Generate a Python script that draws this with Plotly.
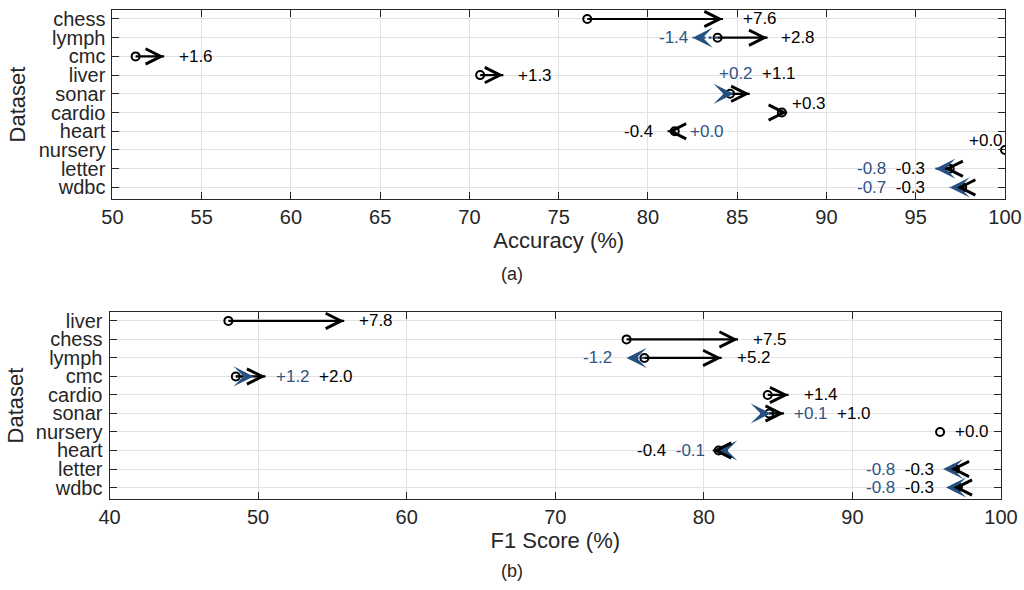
import plotly.graph_objects as go

# ---------------- data: (a) Accuracy ----------------
cats_a = ["chess", "lymph", "cmc", "liver", "sonar", "cardio", "heart", "nursery", "letter", "wdbc"]
base_a = [76.6, 83.9, 51.3, 70.6, 84.6, 87.5, 81.5, 100.0, 96.9, 97.6]
black_a = [7.6, 2.8, 1.6, 1.3, 1.1, 0.3, -0.4, 0.0, -0.3, -0.3]
blue_a = [None, -1.4, None, None, 0.2, None, 0.0, None, -0.8, -0.7]
xticks_a = [50, 55, 60, 65, 70, 75, 80, 85, 90, 95, 100]

# ---------------- data: (b) F1 score ----------------
cats_b = ["liver", "chess", "lymph", "cmc", "cardio", "sonar", "nursery", "heart", "letter", "wdbc"]
base_b = [48.0, 74.8, 76.0, 48.5, 84.3, 84.4, 95.9, 81.0, 96.9, 97.1]
black_b = [7.8, 7.5, 5.2, 2.0, 1.4, 1.0, 0.0, -0.4, -0.3, -0.3]
blue_b = [None, None, -1.2, 1.2, None, 0.1, None, -0.1, -0.8, -0.8]
xticks_b = [40, 50, 60, 70, 80, 90, 100]

# label pixel tweaks (layout only): right-group dx, left-group dx, dy
lab_dxr_a = [5, -2, 0, 0, -46, -10, 0, -51, 0, 0]
lab_dxl_a = [0, 10, 0, 0, 0, 0, 0, 0, 5, -10]
lab_dy_a = [0, 0, 0, 0, 20, 9, 0, 9, 0, 0]
lab_dxr_b = [0, 0, 0, -5, 0, -5, 0, 0, 0, 0]
lab_dxl_b = [0, 0, 0, 0, 0, 0, 0, 7, 6, 3]
lab_dy_b = [0] * 10

BLACK = "#000000"
BLUE_LINE = "#25507f"
BLUE_TXT = "#2f5485"
AXC = "#262626"
GRID = "#e1e1e1"
FONT = "Liberation Sans, Arial, Helvetica, sans-serif"
LAB_FS = 17
TICK_FS = 20
TITLE_FS = 22
GAP = 13

fig = go.Figure()


def fmt(v):
    return ("+" if v >= 0 else "-") + f"{abs(v):.1f}"


def add_panel(cats, base, blk, blu, dxr, dxl, dys, xref, yref):
    n = len(cats)
    yv = list(range(n))
    # shafts + heads
    for i in range(n):
        b = base[i]
        for d, col, dash in ((blu[i], BLUE_LINE, "dot"), (blk[i], BLACK, "solid")):
            if d is None or abs(d) < 1e-9:
                continue
            fig.add_trace(go.Scatter(x=[b, b + d], y=[yv[i], yv[i]], mode="lines",
                                     line=dict(color=col, width=2.2, dash=dash),
                                     xaxis=xref, yaxis=yref, showlegend=False,
                                     hoverinfo="skip"))
            sgn = 1 if d > 0 else -1
            fig.add_annotation(x=b + d, y=yv[i], ax=-sgn * 9, ay=0, xref=xref, yref=yref,
                               text="", showarrow=True,
                               arrowhead=5 if col == BLACK else 3,
                               arrowsize=1.25 if col == BLACK else 1.4,
                               arrowwidth=2.4, arrowcolor=col, standoff=0)
    # circles
    fig.add_trace(go.Scatter(x=base, y=yv, mode="markers",
                             marker=dict(symbol="circle-open", size=8, color=BLACK,
                                         line=dict(width=2, color=BLACK)),
                             xaxis=xref, yaxis=yref, showlegend=False))
    # labels
    for i in range(n):
        b = base[i]
        items = [(blk[i], BLACK, 1)]
        if blu[i] is not None:
            items.append((blu[i], BLUE_TXT, 0))
        right = sorted([t for t in items if t[0] >= 0], key=lambda t: (t[0], t[2]))
        left = sorted([t for t in items if t[0] < 0], key=lambda t: -t[0])
        if right:
            xr = max(b, b + right[-1][0])
            txt = "&nbsp;&nbsp;".join(f"<span style='color:{c}'>{fmt(v)}</span>" for v, c, _ in right)
            fig.add_annotation(x=xr, y=yv[i], xref=xref, yref=yref, text=txt, showarrow=False,
                               xanchor="left", yanchor="middle", xshift=GAP + dxr[i],
                               yshift=dys[i], font=dict(size=LAB_FS, color=BLACK, family=FONT))
        if left:
            xl = min(b, b + left[-1][0])
            txt = "&nbsp;&nbsp;".join(f"<span style='color:{c}'>{fmt(v)}</span>" for v, c, _ in reversed(left))
            fig.add_annotation(x=xl, y=yv[i], xref=xref, yref=yref, text=txt, showarrow=False,
                               xanchor="right", yanchor="middle", xshift=-GAP + dxl[i],
                               yshift=dys[i], font=dict(size=LAB_FS, color=BLACK, family=FONT))


add_panel(cats_a, base_a, black_a, blue_a, lab_dxr_a, lab_dxl_a, lab_dy_a, "x", "y")
add_panel(cats_b, base_b, black_b, blue_b, lab_dxr_b, lab_dxl_b, lab_dy_b, "x2", "y2")

W, H = 1024, 590
axis_common = dict(showline=True, linecolor=AXC, linewidth=1, mirror="allticks",
                   ticks="inside", ticklen=7, tickcolor=AXC, tickwidth=1,
                   showgrid=True, gridcolor=GRID, gridwidth=1, zeroline=False,
                   automargin=False,
                   tickfont=dict(size=TICK_FS, color=AXC, family=FONT))

fig.update_layout(
    width=W, height=H, margin=dict(l=0, r=0, t=0, b=0, autoexpand=False),
    paper_bgcolor="white", plot_bgcolor="white", showlegend=False,
    font=dict(family=FONT, color=AXC),
    xaxis=dict(axis_common, domain=[112.4 / W, 1005 / W], range=[50, 100],
               tickvals=xticks_a, anchor="y", ticklabelstandoff=0,
               title=dict(text="Accuracy (%)", font=dict(size=TITLE_FS, color=AXC), standoff=2)),
    yaxis=dict(axis_common, domain=[1 - 199 / H, 1 - 10 / H], range=[9.62, -0.48],
               tickvals=list(range(len(cats_a))), ticktext=cats_a, anchor="x",
               ticklabelstandoff=2,
               title=dict(text="Dataset", font=dict(size=TITLE_FS, color=AXC), standoff=6)),
    xaxis2=dict(axis_common, domain=[109.5 / W, 1001 / W], range=[40, 100],
                tickvals=xticks_b, anchor="y2", ticklabelstandoff=0,
                title=dict(text="F1 Score (%)", font=dict(size=TITLE_FS, color=AXC), standoff=2)),
    yaxis2=dict(axis_common, domain=[1 - 499 / H, 1 - 312 / H], range=[9.62, -0.48],
                tickvals=list(range(len(cats_b))), ticktext=cats_b, anchor="x2",
                ticklabelstandoff=2,
                title=dict(text="Dataset", font=dict(size=TITLE_FS, color=AXC), standoff=6)),
)

fig.add_annotation(x=0.5, y=1 - 274 / H, xref="paper", yref="paper", text="(a)",
                   xanchor="center", yanchor="middle",
                   showarrow=False, font=dict(size=18, color=AXC, family=FONT))
fig.add_annotation(x=0.5, y=1 - 571 / H, xref="paper", yref="paper", text="(b)",
                   xanchor="center", yanchor="middle",
                   showarrow=False, font=dict(size=18, color=AXC, family=FONT))

fig.write_html("out.html", config={"displayModeBar": False},
               post_script="document.body.style.margin='0px';document.body.style.overflow='hidden';")
